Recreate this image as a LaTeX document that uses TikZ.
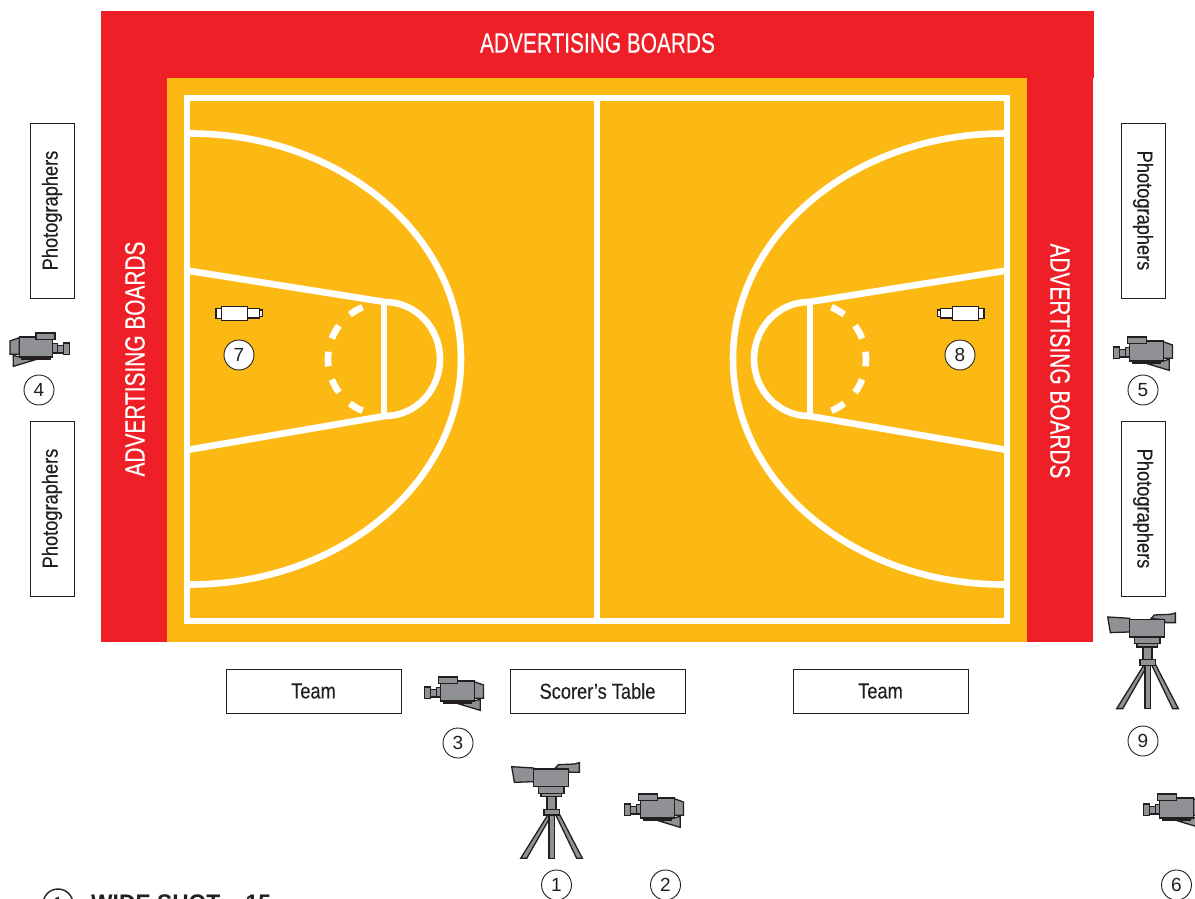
\documentclass[tikz,border=0pt]{standalone}
\usepackage{fontspec}
\setmainfont{Liberation Sans}
\newfontfamily\condfont[FakeStretch=0.745,FakeBold=0.25]{Liberation Sans}
\newfontfamily\tagfont[FakeStretch=0.84,FakeBold=0.25]{Liberation Sans}
\newfontfamily\legendfont[FakeStretch=0.95]{Liberation Sans Bold}
\definecolor{boardred}{HTML}{EF1F28}
\definecolor{courtyellow}{HTML}{FDB913}
\definecolor{camgray}{HTML}{8F9194}
\definecolor{inkdark}{HTML}{231F20}
\tikzset{
  boardlabel/.style={text=white,font=\condfont\fontsize{28}{28}\selectfont,inner sep=0pt},
  tagbox/.style={draw=inkdark,line width=0.9pt,fill=white,minimum width=175pt,minimum height=44pt,inner sep=0pt,text=inkdark,font=\tagfont\fontsize{21.7}{21.7}\selectfont},
  numdisc/.style={circle,draw=inkdark,line width=0.9pt,fill=white,minimum size=30pt,inner sep=0pt,text=inkdark,font=\fontsize{19}{19}\selectfont},
  courtline/.style={draw=white,line width=6.6pt},
  campart/.style={draw=inkdark,fill=camgray,line width=1.3pt,line join=miter},
  whitepart/.style={draw=inkdark,fill=white,line width=1.2pt},
  handcam/.pic={
    \begin{scope}[x=1pt/3,y=-1pt/3,shift={(-108,-200)}]
      \path[campart] (40,225) -- (40,258) -- (100,240) -- (70,233) -- cycle;
      \path[campart] (30,182) -- (58,172) -- (58,222) -- (30,222) -- cycle;
      \path[campart] (66,226) rectangle (150,236);
      \path[campart] (58,170) rectangle (158,230);
      \path[campart] (108,158) rectangle (165,178);
      \path[campart] (158,190) rectangle (172,218);
      \path[campart] (172,195) rectangle (190,218);
      \path[campart] (190,188) rectangle (208,222);
    \end{scope}
  },
  tripodcam/.pic={
    \begin{scope}[x=1pt/3,y=-1pt/3,shift={(-215,-150)}]
      \path[campart] (205,222) -- (122,355) -- (140,355) -- (216,222) -- cycle;
      \path[campart] (226,222) -- (290,355) -- (307,355) -- (238,222) -- cycle;
      \path[campart] (207,222) rectangle (223,355);
      \path[campart] (201,168) rectangle (228,210);
      \path[campart] (192,208) rectangle (238,225);
      \path[campart] (183,158) rectangle (245,170);
      \path[campart] (175,140) rectangle (252,160);
      \path[campart] (95,80) -- (161,84) -- (161,125) -- (103,127) -- cycle;
      \path[campart] (225,85) -- (235,74) -- (284,72) -- (298,68) -- (298,97) -- (270,97) -- (262,88) -- cycle;
      \path[campart] (161,87) rectangle (265,140);
    \end{scope}
  },
  slimcam/.pic={
    \begin{scope}[x=1pt/3,y=-1pt/3,shift={(-718,-101)}]
      \path[whitepart] (648,86) rectangle (664,116);
      \path[whitepart] (743,86) rectangle (778,114);
      \path[whitepart] (778,90) rectangle (788,110);
      \path[whitepart] (664,80) rectangle (743,122);
    \end{scope}
  },
  halfcourt/.pic={
    \draw[courtline] (-1,-225.5) -- (0,-225.5) arc[start angle=-90,end angle=90,x radius=271,y radius=225.5] -- (-1,225.5);
    \draw[courtline] (-3,-88.5) -- (195,-57) arc[start angle=-90,end angle=90,x radius=55,y radius=57] -- (-3,91);
    \draw[courtline] (194,-57) -- (194,57);
    \foreach \mid in {120,151,180,209,240}
      \draw[courtline] ({194+56*cos(\mid-7.5)},{56*sin(\mid-7.5)}) arc[start angle=\mid-7.5,end angle=\mid+7.5,radius=56];
  }
}
\begin{document}
\begin{tikzpicture}[x=1pt,y=-1pt]
  \useasboundingbox (0,0) rectangle (1195,899);
  \clip (0,0) rectangle (1195,899);
  % boards and floor
  \fill[boardred] (101,11) rectangle (1094,78);
  \fill[boardred] (101,78) rectangle (1093,642);
  \fill[courtyellow] (167,78) rectangle (1027,642);
  % court lines
  \draw[courtline] (187,98) rectangle (1007,621);
  \draw[courtline] (597,98) -- (597,621);
  \pic at (190,359) {halfcourt};
  \pic[xscale=-1] at (1004,359) {halfcourt};
  % board labels
  \node[boardlabel] (boardtop) at (597.5,43) {ADVERTISING BOARDS};
  \node[boardlabel,rotate=90] (boardleft) at (135,359) {ADVERTISING BOARDS};
  \node[boardlabel,rotate=-90] (boardright) at (1060,361) {ADVERTISING BOARDS};
  % photographers
  \node[tagbox,rotate=90] (photoA) at (52,210.5) {Photographers};
  \node[tagbox,rotate=90] (photoB) at (52,508.5) {Photographers};
  \node[tagbox,rotate=-90] (photoC) at (1143,210.5) {Photographers};
  \node[tagbox,rotate=-90] (photoD) at (1143,508.5) {Photographers};
  % tables
  \node[tagbox] (teamL) at (313.5,691) {Team};
  \node[tagbox] (scorer) at (597.5,691) {Scorer’s Table};
  \node[tagbox] (teamR) at (880.5,691) {Team};
  % cameras
  \pic at (36,347) {handcam};
  \pic[xscale=-1] at (1146.5,351) {handcam};
  \pic[xscale=-1] at (457.5,691) {handcam};
  \pic[xscale=-1] at (657.5,808) {handcam};
  \pic[xscale=-1] at (1176.5,808) {handcam};
  \pic at (551.7,790) {tripodcam};
  \pic at (1147.7,640.3) {tripodcam};
  \pic at (239.3,313.7) {slimcam};
  \pic[xscale=-1] at (960.7,313.7) {slimcam};
  % numbers
  \node[numdisc] (n1) at (556.5,885) {1};
  \node[numdisc] (n2) at (665.5,885) {2};
  \node[numdisc] (n3) at (458,743) {3};
  \node[numdisc] (n4) at (39,390) {4};
  \node[numdisc] (n5) at (1143,390) {5};
  \node[numdisc] (n6) at (1176.5,885) {6};
  \node[numdisc] (n7) at (239,355) {7};
  \node[numdisc] (n8) at (960,355) {8};
  \node[numdisc] (n9) at (1143,741) {9};
  % legend
  \node[numdisc,line width=1.4pt] (legend1) at (58,904) {1};
  \node[anchor=base west,inner sep=0pt,text=inkdark,font=\legendfont\fontsize{24}{24}\selectfont] (legendtext) at (91,911) {WIDE SHOT – 15};
\end{tikzpicture}
\end{document}
